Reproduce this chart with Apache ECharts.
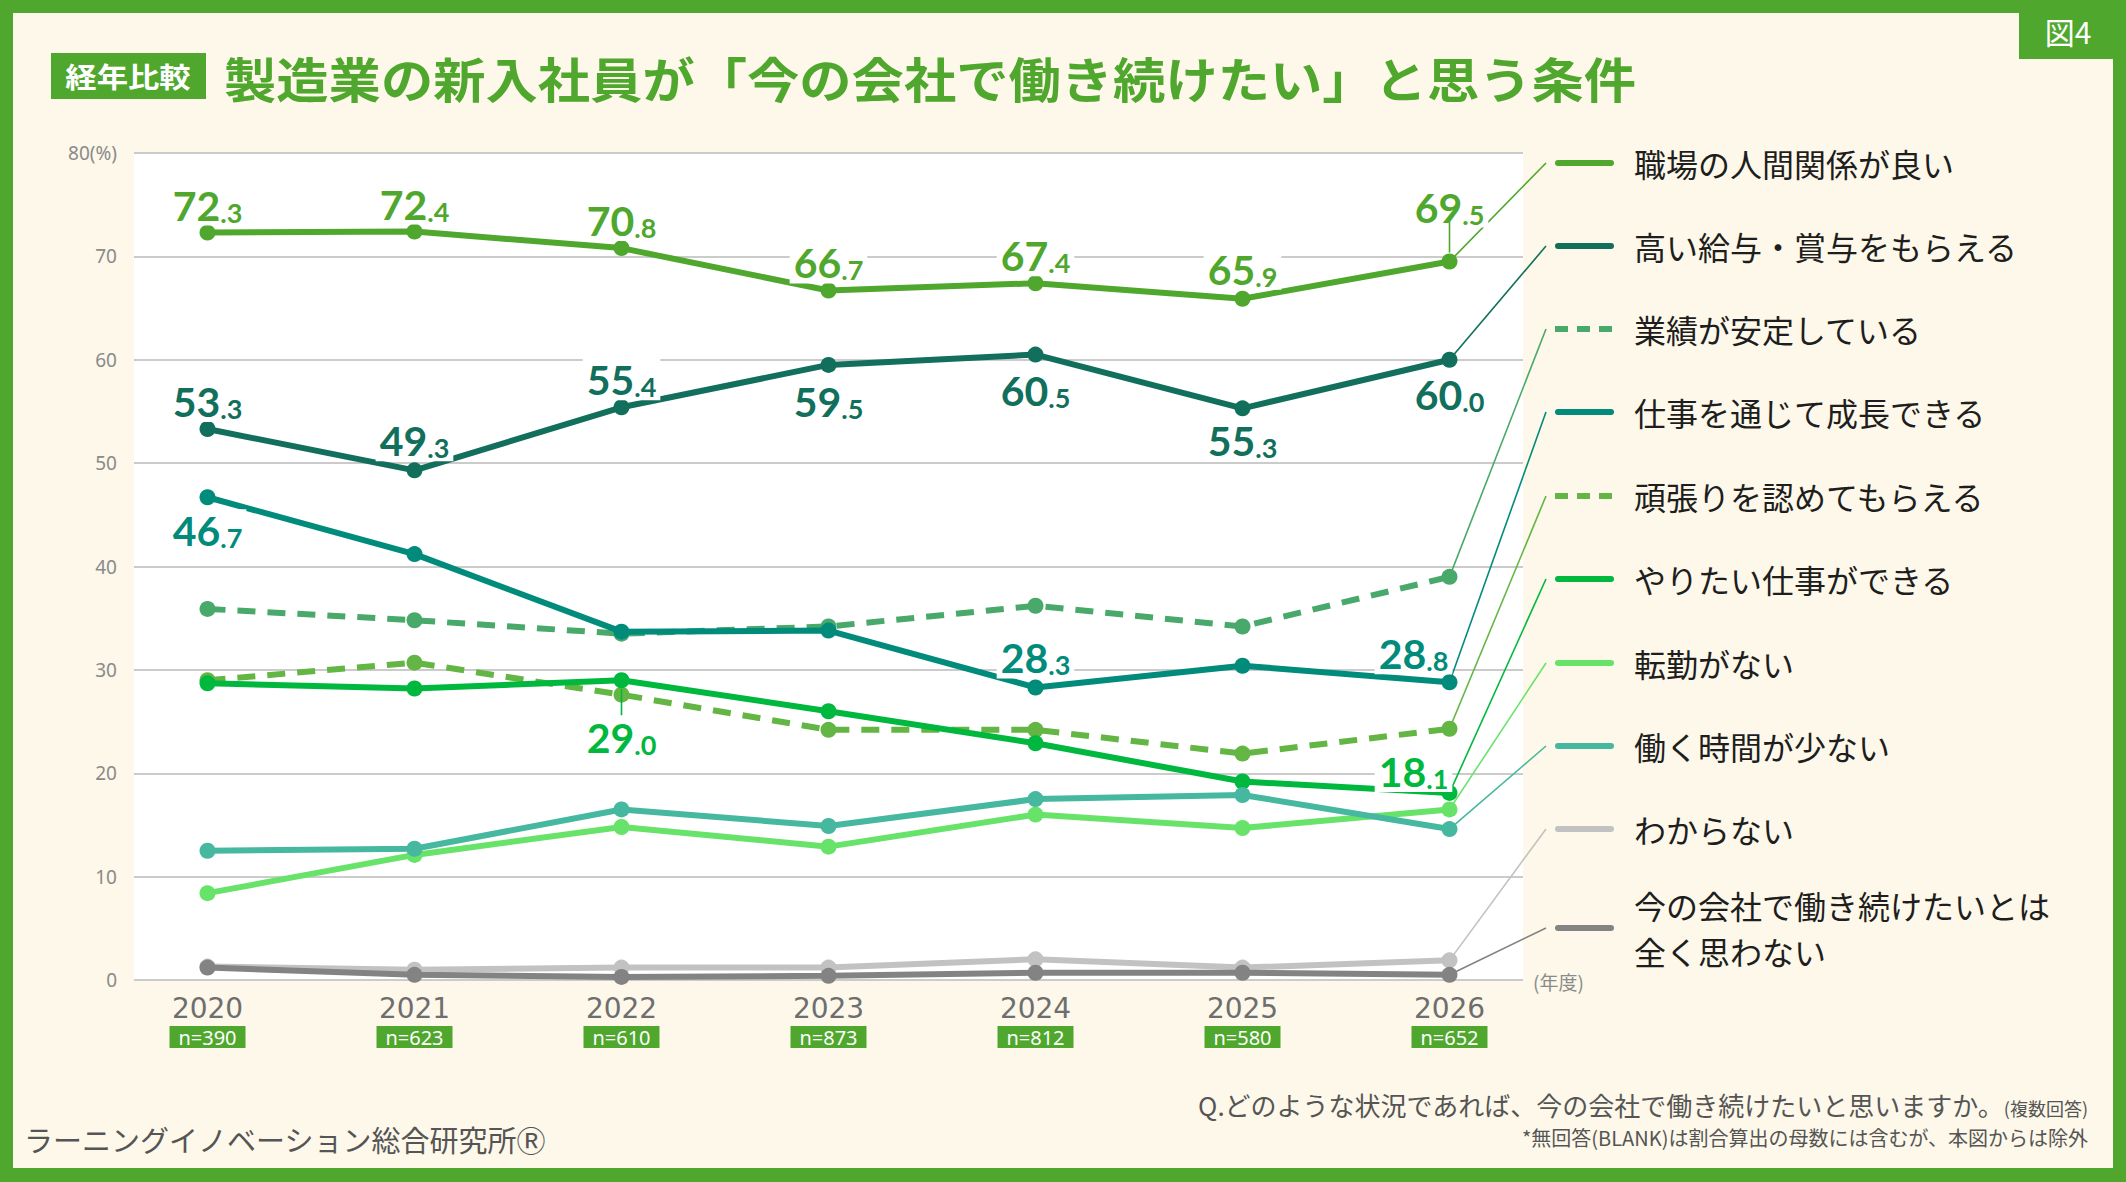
<!DOCTYPE html>
<html lang="ja">
<head>
<meta charset="utf-8">
<title>製造業の新入社員が「今の会社で働き続けたい」と思う条件</title>
<script src="https://cdn.jsdelivr.net/npm/echarts@6/dist/echarts.min.js"></script>
<style>
    html, body { margin: 0; padding: 0; background: #fdf8e9; }
    #main { width: 2126px; height: 1182px; }
</style>
</head>
<body>
<div id="main"></div>
<script>
    // ---- data ----
    const years = ['2020', '2021', '2022', '2023', '2024', '2025', '2026']
    const sampleSizes = [390, 623, 610, 873, 812, 580, 652]

    const seriesNames = [
        '職場の人間関係が良い',
        '高い給与・賞与をもらえる',
        '業績が安定している',
        '仕事を通じて成長できる',
        '頑張りを認めてもらえる',
        'やりたい仕事ができる',
        '転勤がない',
        '働く時間が少ない',
        'わからない',
        '今の会社で働き続けたいとは全く思わない'
    ]
    const goodRelations = [72.3, 72.4, 70.8, 66.7, 67.4, 65.9, 69.5]
    const highPay = [53.3, 49.3, 55.4, 59.5, 60.5, 55.3, 60.0]
    const stableResults = [35.9, 34.8, 33.5, 34.2, 36.2, 34.2, 39.0]
    const growth = [46.7, 41.2, 33.7, 33.8, 28.3, 30.4, 28.8]
    const recognition = [29.0, 30.7, 27.6, 24.2, 24.2, 21.9, 24.3]
    const wantedWork = [28.7, 28.2, 29.0, 26.0, 22.9, 19.2, 18.1]
    const noTransfer = [8.4, 12.1, 14.8, 12.9, 16.0, 14.7, 16.5]
    const shortHours = [12.5, 12.7, 16.5, 14.9, 17.5, 17.9, 14.6]
    const dontKnow = [1.3, 1.0, 1.2, 1.2, 2.0, 1.2, 1.9]
    const neverStay = [1.2, 0.5, 0.3, 0.4, 0.7, 0.7, 0.5]
    const seriesValues = [goodRelations, highPay, stableResults, growth, recognition,
        wantedWork, noTransfer, shortHours, dontKnow, neverStay]

    const yMin = 0, yMax = 80, yStep = 10

    // ---- styles ----
    const GREEN = '#50a72e'
    const JP = '"Noto Sans CJK JP", "Noto Sans", sans-serif'
    const NUM = 'Lato, "Noto Sans", sans-serif'
    const lineColors = ['#4fa72e', '#116f5c', '#48a96a', '#008b7b', '#63b544',
        '#00b83e', '#68e36a', '#45b89f', '#c2c2c2', '#838383']
    const dashed = [false, false, true, false, true, false, false, false, false, false]
    // label centre offset from the point, per series / per year index
    const labelSpots = [
        { 0: [0, -28], 1: [0, -28], 2: [0, -28], 3: [0, -28], 4: [0, -28], 5: [0, -30], 6: [0, -55] },
        { 0: [0, -28], 1: [0, -30], 2: [0, -28], 3: [0, 36], 4: [0, 35], 5: [0, 32], 6: [0, 34] },
        {},
        { 0: [0, 33], 4: [0, -30], 6: [-36, -29] },
        {},
        { 2: [0, 57], 6: [-36, -22] },
        {}, {}, {}, {}
    ]
    const legendRows = [163, 246, 329, 412, 496, 579, 663, 746, 829, 928]

    const chart = echarts.init(document.getElementById('main'), null, { renderer: 'svg' })

    function numLabel(p) {
        const parts = Number(p.value).toFixed(1).split('.')
        return '{a|' + parts[0] + '}{b|.' + parts[1] + '}'
    }

    const series = seriesValues.map((vals, i) => ({
        name: seriesNames[i],
        type: 'line',
        xAxisIndex: 0,
        yAxisIndex: 0,
        symbol: 'circle',
        symbolSize: 16,
        z: 10 + i,
        lineStyle: {
            color: lineColors[i],
            width: 6,
            type: dashed[i] ? [18, 12] : 'solid',
            cap: dashed[i] ? 'butt' : 'round'
        },
        itemStyle: { color: lineColors[i] },
        label: {
            show: false,
            formatter: numLabel,
            color: lineColors[i],
            backgroundColor: '#fff',
            padding: [0, 4],
            rich: {
                a: { fontFamily: NUM, fontWeight: 'bold', fontSize: 41, lineHeight: 42, verticalAlign: 'bottom', color: lineColors[i] },
                b: { fontFamily: NUM, fontWeight: 'bold', fontSize: 27, lineHeight: 32, verticalAlign: 'bottom', color: lineColors[i] }
            }
        },
        emphasis: { disabled: true },
        data: vals.map((v, j) => {
            const spot = labelSpots[i][j]
            if (!spot) return v
            return { value: v, label: { show: true, position: 'inside', offset: spot } }
        })
    }))

    const staticGraphics = [
        // frame
        { type: 'rect', shape: { x: 0, y: 0, width: 2126, height: 13 }, style: { fill: GREEN }, z: 100 },
        { type: 'rect', shape: { x: 0, y: 1168, width: 2126, height: 14 }, style: { fill: GREEN }, z: 100 },
        { type: 'rect', shape: { x: 0, y: 0, width: 13, height: 1182 }, style: { fill: GREEN }, z: 100 },
        { type: 'rect', shape: { x: 2113, y: 0, width: 13, height: 1182 }, style: { fill: GREEN }, z: 100 },
        { type: 'rect', shape: { x: 2019, y: 0, width: 94, height: 59 }, style: { fill: GREEN }, z: 100 },
        { type: 'text', x: 2068, y: 31, z: 101, style: { text: '図4', fill: '#fff', fontFamily: JP, fontSize: 30, align: 'center', verticalAlign: 'middle' } },
        // title
        { type: 'rect', shape: { x: 51, y: 53, width: 155, height: 46 }, style: { fill: GREEN }, z: 100 },
        { type: 'text', x: 128, y: 76, scaleX: 1.12, z: 101, style: { text: '経年比較', fill: '#fff', fontFamily: JP, fontWeight: 'bold', fontSize: 28, align: 'center', verticalAlign: 'middle' } },
        { type: 'text', x: 224, y: 77, scaleX: 1.09, z: 101, style: { text: '製造業の新入社員が「今の会社で働き続けたい」と思う条件', fill: GREEN, fontFamily: JP, fontWeight: 'bold', fontSize: 48, align: 'left', verticalAlign: 'middle' } },
        // axis unit
        { type: 'text', x: 1533, y: 981, style: { text: '(年度)', fill: '#8a8a8a', fontFamily: JP, fontSize: 19, align: 'left', verticalAlign: 'middle' } },
        // notes
        { type: 'text', x: 2088, y: 1101, style: {
            text: '{q|Q.どのような状況であれば、今の会社で働き続けたいと思いますか。}{s|(複数回答)}',
            align: 'right', verticalAlign: 'middle',
            rich: {
                q: { fontFamily: JP, fontSize: 26, fill: '#555', lineHeight: 32, verticalAlign: 'bottom' },
                s: { fontFamily: JP, fontSize: 18, fill: '#555', lineHeight: 27, verticalAlign: 'bottom' }
            } } },
        { type: 'text', x: 2088, y: 1137, style: { text: '*無回答(BLANK)は割合算出の母数には含むが、本図からは除外', fill: '#555', fontFamily: JP, fontSize: 20, align: 'right', verticalAlign: 'middle' } },
        { type: 'text', x: 24, y: 1139, style: { text: 'ラーニングイノベーション総合研究所Ⓡ', fill: '#555', fontFamily: JP, fontSize: 29, align: 'left', verticalAlign: 'middle' } }
    ]

    // legend (the last name is wrapped onto two lines like the original)
    seriesNames.forEach((name, i) => {
        const y = legendRows[i]
        staticGraphics.push({
            type: 'line',
            shape: { x1: dashed[i] ? 1555 : 1558, y1: y, x2: dashed[i] ? 1614 : 1611, y2: y },
            style: { stroke: lineColors[i], lineWidth: 6, lineDash: dashed[i] ? [13, 9] : null, lineCap: dashed[i] ? 'butt' : 'round' }
        })
        const lines = name.length > 16 ? [name.slice(0, 13), name.slice(13)] : [name]
        lines.forEach((txt, k) => {
            staticGraphics.push({
                type: 'text', x: 1634, y: y + (k - (lines.length - 1) / 2) * 46,
                style: { text: txt, fill: '#1e1e1e', fontFamily: JP, fontSize: 32, align: 'left', verticalAlign: 'middle' }
            })
        })
    })

    const option = {
        animation: false,
        backgroundColor: '#fdf8e9',
        grid: [
            { left: 207.5, right: 676.5, top: 153, bottom: 202 },
            { left: 134, right: 603, top: 153, bottom: 202, show: true, backgroundColor: '#fff', borderWidth: 0, z: 0 }
        ],
        xAxis: [
            {
                gridIndex: 0,
                type: 'category',
                data: years,
                boundaryGap: false,
                axisLine: { show: false },
                axisTick: { show: false },
                splitLine: { show: false },
                axisLabel: {
                    margin: 10,
                    formatter: (val, idx) => '{y|' + val + '}\n{n|n=' + sampleSizes[idx] + '}',
                    rich: {
                        y: { fontFamily: '"DejaVu Sans", sans-serif', fontSize: 28, color: '#6e6e6e', lineHeight: 36, align: 'center' },
                        n: { fontFamily: '"Noto Sans", sans-serif', fontSize: 20, color: '#fff', backgroundColor: GREEN, width: 76, height: 22, lineHeight: 22, align: 'center' }
                    }
                }
            },
            { gridIndex: 1, type: 'value', min: 0, max: 1, show: false }
        ],
        yAxis: [
            { gridIndex: 0, type: 'value', min: yMin, max: yMax, interval: yStep, show: false },
            {
                gridIndex: 1,
                type: 'value',
                min: yMin,
                max: yMax,
                interval: yStep,
                axisLine: { show: false },
                axisTick: { show: false },
                splitLine: { lineStyle: { color: '#cbcbcb', width: 2 } },
                axisLabel: {
                    margin: 17,
                    color: '#8a8a8a',
                    fontFamily: '"Noto Sans", sans-serif',
                    fontSize: 19,
                    formatter: v => v === yMax ? v + '(%)' : String(v)
                }
            }
        ],
        series: series
    }

    chart.setOption(option)

    // leader lines from the last point to the legend, and small label ticks
    const dynamic = []
    const last = years.length - 1
    seriesValues.forEach((vals, i) => {
        const p = chart.convertToPixel({ seriesIndex: i }, [last, vals[last]])
        dynamic.push({
            type: 'line', z: 5,
            shape: { x1: p[0], y1: p[1], x2: 1546, y2: legendRows[i] },
            style: { stroke: lineColors[i], lineWidth: 1.6 }
        })
    })
    const p1 = chart.convertToPixel({ seriesIndex: 0 }, [last, goodRelations[last]])
    dynamic.push({ type: 'line', z: 30, shape: { x1: p1[0], y1: p1[1] - 40, x2: p1[0], y2: p1[1] - 9 }, style: { stroke: lineColors[0], lineWidth: 1.6 } })
    const p6 = chart.convertToPixel({ seriesIndex: 5 }, [2, wantedWork[2]])
    dynamic.push({ type: 'line', z: 30, shape: { x1: p6[0], y1: p6[1] + 9, x2: p6[0], y2: p6[1] + 35 }, style: { stroke: lineColors[5], lineWidth: 1.6 } })

    chart.setOption({ graphic: staticGraphics.concat(dynamic) })
</script>
</body>
</html>
